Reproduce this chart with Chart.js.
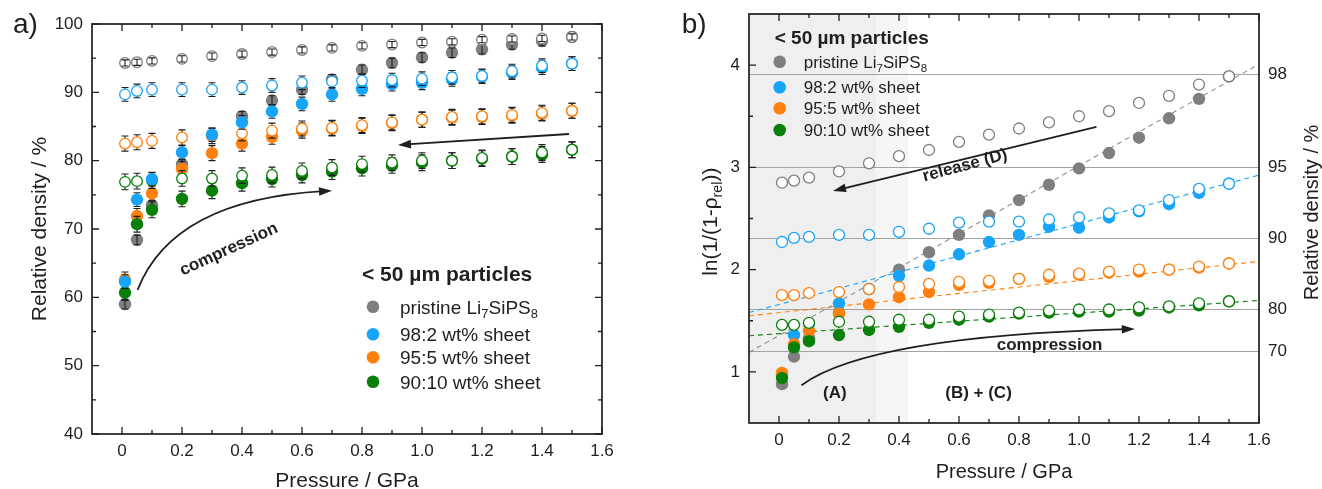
<!DOCTYPE html>
<html>
<head>
<meta charset="utf-8">
<title>Densification of Li7SiPS8 / sheet composites</title>
<script src="https://cdn.jsdelivr.net/npm/chart.js"></script>
<style>
  body { margin: 0; background: #fff; }
  #wrap { display: flex; width: 1322px; height: 489px; }
  canvas { display: block; }
</style>
</head>
<body>
<div id="wrap">
  <canvas id="chartA" width="660" height="489"></canvas>
  <canvas id="chartB" width="662" height="489"></canvas>
</div>

<script>
// pressure steps in GPa, shared by all series
var pressure = [0.01, 0.05, 0.1, 0.2, 0.3, 0.4, 0.5, 0.6, 0.7, 0.8, 0.9, 1.0, 1.1, 1.2, 1.3, 1.4, 1.5];

// a) relative density / %, compression (filled) and release (open)
var pristineComp = [59.0, 68.4, 73.5, 79.5, 83.7, 86.5, 88.8, 90.4, 91.9, 93.3, 94.3, 95.1, 95.8, 96.3, 97.0, 97.5, 98.1];
var pristineRel  = [94.3, 94.4, 94.6, 94.9, 95.3, 95.6, 95.9, 96.2, 96.5, 96.8, 97.0, 97.3, 97.4, 97.7, 97.8, 97.9, 98.1];
var sheet2Comp   = [62.3, 74.3, 77.3, 81.2, 83.8, 85.6, 87.2, 88.3, 89.7, 90.5, 91.2, 91.4, 91.9, 92.3, 92.9, 93.6, 94.2];
var sheet2Rel    = [89.7, 90.2, 90.4, 90.4, 90.4, 90.7, 91.0, 91.4, 91.6, 91.7, 91.8, 92.0, 92.2, 92.4, 93.1, 93.9, 94.2];
var sheet5Comp   = [62.6, 71.9, 75.2, 78.8, 81.1, 82.5, 83.5, 84.4, 84.7, 85.1, 85.5, 86.0, 86.3, 86.4, 86.6, 86.9, 87.3];
var sheet5Rel    = [82.5, 82.7, 82.9, 83.4, 83.6, 84.0, 84.4, 84.7, 84.8, 85.2, 85.6, 86.0, 86.4, 86.5, 86.7, 87.0, 87.3];
var sheet10Comp  = [60.7, 70.7, 72.8, 74.4, 75.6, 76.7, 77.3, 77.9, 78.4, 78.9, 79.3, 79.7, 80.0, 80.3, 80.6, 80.9, 81.6];
var sheet10Rel   = [76.9, 77.0, 77.1, 77.4, 77.4, 77.8, 77.9, 78.5, 79.0, 79.5, 79.7, 80.0, 80.0, 80.4, 80.6, 81.2, 81.6];

// error bar half widths (%)
var errPristineComp = 0.7, errPristineRel = 0.45, errSheet2 = 1.0, errSheet5 = 1.1, errSheet10 = 1.15;

// b) ln(1/(1-rho_rel))
var lnPristineComp = [0.88, 1.15, 1.33, 1.58, 1.81, 2.00, 2.17, 2.34, 2.53, 2.68, 2.83, 2.99, 3.14, 3.29, 3.48, 3.67, 3.89];
var lnPristineRel  = [2.85, 2.87, 2.90, 2.96, 3.04, 3.11, 3.17, 3.25, 3.32, 3.38, 3.44, 3.50, 3.55, 3.63, 3.70, 3.81, 3.89];
var lnSheet2Comp   = [0.97, 1.36, 1.47, 1.67, 1.81, 1.94, 2.04, 2.15, 2.27, 2.34, 2.42, 2.41, 2.51, 2.57, 2.64, 2.75, 2.84];
var lnSheet2Rel    = [2.27, 2.31, 2.32, 2.34, 2.34, 2.37, 2.40, 2.46, 2.47, 2.47, 2.49, 2.51, 2.55, 2.58, 2.68, 2.79, 2.84];
var lnSheet5Comp   = [0.99, 1.27, 1.40, 1.57, 1.66, 1.73, 1.78, 1.85, 1.87, 1.91, 1.93, 1.95, 1.97, 1.98, 2.00, 2.02, 2.06];
var lnSheet5Rel    = [1.75, 1.75, 1.77, 1.78, 1.81, 1.83, 1.86, 1.88, 1.89, 1.91, 1.95, 1.96, 1.98, 2.00, 2.00, 2.03, 2.06];
var lnSheet10Comp  = [0.94, 1.24, 1.30, 1.36, 1.41, 1.44, 1.48, 1.51, 1.54, 1.57, 1.58, 1.59, 1.59, 1.60, 1.63, 1.65, 1.69];
var lnSheet10Rel   = [1.46, 1.46, 1.48, 1.49, 1.49, 1.51, 1.51, 1.54, 1.56, 1.58, 1.60, 1.61, 1.61, 1.63, 1.64, 1.67, 1.69];

// linear fits of the (B)+(C) range, given by their two ends
var fitEnds      = [-0.1, 1.6];
var fitPristine  = [1.19, 4.01];
var fitSheet2    = [1.58, 2.925];
var fitSheet5    = [1.548, 2.08];
var fitSheet10   = [1.353, 1.698];

// axes
var pressureTicks  = [0, 0.2, 0.4, 0.6, 0.8, 1.0, 1.2, 1.4, 1.6];
var pressureLabels = ['0', '0.2', '0.4', '0.6', '0.8', '1.0', '1.2', '1.4', '1.6'];
var pressureMinor  = [0.1, 0.3, 0.5, 0.7, 0.9, 1.1, 1.3, 1.5];
var densityTicks   = [40, 50, 60, 70, 80, 90, 100];
var densityMinor   = [45, 55, 65, 75, 85, 95];
var lnTicks        = [1, 2, 3, 4];
var lnMinor        = [1.5, 2.5, 3.5];
var densityMarks   = [98, 95, 90, 80, 70];   // right axis of b), sits at ln(1/(1-rho))

// shaded pressure ranges in b): (A) and the transition strip
var rangeA     = [-0.1, 0.325];
var rangeTrans = [0.325, 0.43];

var seriesNames = [
  [['pristine Li'], ['7', 1], ['SiPS'], ['8', 1]],
  [['98:2 wt% sheet']],
  [['95:5 wt% sheet']],
  [['90:10 wt% sheet']]
];

var FONT = "'Liberation Sans', Arial, sans-serif";
var INK = '#1f1f1f';
var C_GRAY = '#7f7f7f', C_BLUE = '#18a4f8', C_ORANGE = '#ff800e', C_GREEN = '#0a7f0a';
var seriesColors = [C_GRAY, C_BLUE, C_ORANGE, C_GREEN];

Chart.defaults.font.family = FONT;
Chart.defaults.color = INK;
var tickFont = { family: FONT, size: 17 };

function series(ys, color, hollow, r, err, errOnTop) {
  return {
    data: pressure.map(function (p, i) { return { x: p, y: ys[i] }; }),
    showLine: false,
    pointRadius: r,
    pointHoverRadius: r,
    pointBackgroundColor: hollow ? '#ffffff' : color,
    pointBorderColor: color,
    pointBorderWidth: hollow ? 1.3 : 0,
    err: err,
    errOnTop: errOnTop
  };
}

function fitLine(ends, color) {
  return {
    data: fitEnds.map(function (x, i) { return { x: x, y: ends[i] }; }),
    showLine: true,
    borderColor: color,
    borderWidth: 1.1,
    borderDash: [5, 4],
    pointRadius: 0,
    fill: false
  };
}

// first in the list is drawn first (bottom)
function stack(list) {
  list.forEach(function (d, i) { d.order = list.length - i; });
  return list;
}

// fixed box size, no extra room for overhanging labels
function fixSize(w, h) {
  return function (s) {
    if (w) s.width = w;
    if (h) s.height = h;
    s.paddingTop = s.paddingBottom = s.paddingLeft = s.paddingRight = 0;
  };
}

function fontStr(size, weight) { return weight + ' ' + size + 'px ' + FONT; }

// text with subscripts, caps centred on y
function drawRich(ctx, parts, x, y, size, weight, align) {
  var w = 0;
  parts.forEach(function (p) {
    ctx.font = fontStr(p[1] ? size * 0.68 : size, weight);
    w += ctx.measureText(p[0]).width;
  });
  var cx = align === 'center' ? x - w / 2 : x;
  var base = y + size * 0.36;
  ctx.textAlign = 'left';
  ctx.textBaseline = 'alphabetic';
  parts.forEach(function (p) {
    ctx.font = fontStr(p[1] ? size * 0.68 : size, weight);
    ctx.fillText(p[0], cx, p[1] ? base + size * 0.25 : base);
    cx += ctx.measureText(p[0]).width;
  });
}

function vTitle(ctx, parts, x, y, size) {
  ctx.save();
  ctx.translate(x, y);
  ctx.rotate(-Math.PI / 2);
  drawRich(ctx, parts, 0, 0, size, 'normal', 'center');
  ctx.restore();
}

function toPx(chart, p) {
  return [chart.scales.x.getPixelForValue(p[0]), chart.scales.y.getPixelForValue(p[1])];
}

function head(ctx, tip, from) {
  var a = Math.atan2(tip[1] - from[1], tip[0] - from[0]), L = 13, H = 4.3;
  ctx.beginPath();
  ctx.moveTo(tip[0], tip[1]);
  ctx.lineTo(tip[0] - L * Math.cos(a) + H * Math.sin(a), tip[1] - L * Math.sin(a) - H * Math.cos(a));
  ctx.lineTo(tip[0] - L * Math.cos(a) - H * Math.sin(a), tip[1] - L * Math.sin(a) + H * Math.cos(a));
  ctx.closePath();
  ctx.fill();
}

function shortened(tip, from, by) {
  var dx = tip[0] - from[0], dy = tip[1] - from[1], d = Math.sqrt(dx * dx + dy * dy);
  return [tip[0] - dx / d * by, tip[1] - dy / d * by];
}

function straightArrow(chart, from, to) {
  var ctx = chart.ctx, a = toPx(chart, from), b = toPx(chart, to), e = shortened(b, a, 8);
  ctx.beginPath();
  ctx.moveTo(a[0], a[1]);
  ctx.lineTo(e[0], e[1]);
  ctx.stroke();
  head(ctx, b, a);
}

function curvedArrow(chart, from, ctrl, to) {
  var ctx = chart.ctx, a = toPx(chart, from), c = toPx(chart, ctrl), b = toPx(chart, to), e = shortened(b, c, 8);
  ctx.beginPath();
  ctx.moveTo(a[0], a[1]);
  ctx.quadraticCurveTo(c[0], c[1], e[0], e[1]);
  ctx.stroke();
  head(ctx, b, c);
}

function note(chart, text, at, size, angle) {
  var ctx = chart.ctx, p = toPx(chart, at);
  ctx.save();
  ctx.translate(p[0], p[1]);
  ctx.rotate((angle || 0) * Math.PI / 180);
  drawRich(ctx, [[text]], 0, 0, size, 'bold', 'center');
  ctx.restore();
}

function drawLegend(chart, cfg) {
  var ctx = chart.ctx, a = chart.chartArea;
  ctx.fillStyle = INK;
  drawRich(ctx, [['< 50 µm particles']], a.left + cfg.titleX, a.top + cfg.titleY, cfg.titleSize, 'bold', 'left');
  seriesNames.forEach(function (parts, i) {
    var y = a.top + cfg.rows[i];
    ctx.fillStyle = seriesColors[i];
    ctx.beginPath();
    ctx.arc(a.left + cfg.markX, y, cfg.r, 0, 2 * Math.PI);
    ctx.fill();
    ctx.fillStyle = INK;
    drawRich(ctx, parts, a.left + cfg.textX, y, cfg.size, 'normal', 'left');
  });
}

function drawBars(chart, meta, ds) {
  var ctx = chart.ctx, sy = chart.scales.y;
  ctx.save();
  ctx.strokeStyle = INK;
  ctx.lineWidth = 1.1;
  ctx.beginPath();
  meta.data.forEach(function (pt, i) {
    var v = ds.data[i].y;
    var top = sy.getPixelForValue(v + ds.err), bot = sy.getPixelForValue(v - ds.err);
    ctx.moveTo(pt.x, top); ctx.lineTo(pt.x, bot);
    ctx.moveTo(pt.x - 3.5, top); ctx.lineTo(pt.x + 3.5, top);
    ctx.moveTo(pt.x - 3.5, bot); ctx.lineTo(pt.x + 3.5, bot);
  });
  ctx.stroke();
  ctx.restore();
}

var errorBars = {
  id: 'errorBars',
  beforeDatasetDraw: function (chart, args) {
    var ds = chart.data.datasets[args.index];
    if (ds.err && !ds.errOnTop) drawBars(chart, args.meta, ds);
  },
  afterDatasetDraw: function (chart, args) {
    var ds = chart.data.datasets[args.index];
    if (ds.err && ds.errOnTop) drawBars(chart, args.meta, ds);
  }
};

// box round the plot with inward ticks
function frame(cfg) {
  return {
    id: 'frame',
    afterDraw: function (chart) {
      var ctx = chart.ctx, a = chart.chartArea, sx = chart.scales.x, sy = chart.scales.y;
      ctx.save();
      ctx.strokeStyle = INK;
      ctx.lineWidth = 1.3;
      ctx.beginPath();
      function xt(list, len) {
        list.forEach(function (v) {
          var p = sx.getPixelForValue(v);
          ctx.moveTo(p, a.bottom); ctx.lineTo(p, a.bottom - len);
          ctx.moveTo(p, a.top); ctx.lineTo(p, a.top + len);
        });
      }
      function yt(list, len) {
        list.forEach(function (v) {
          var p = sy.getPixelForValue(v);
          ctx.moveTo(a.left, p); ctx.lineTo(a.left + len, p);
          if (cfg.right) { ctx.moveTo(a.right, p); ctx.lineTo(a.right - len, p); }
        });
      }
      xt(pressureTicks, 7); xt(pressureMinor, 4);
      yt(cfg.yMajor, 7); yt(cfg.yMinor, 4);
      ctx.stroke();
      ctx.lineWidth = 1.7;
      ctx.strokeRect(a.left, a.top, a.width, a.height);
      ctx.restore();
    }
  };
}

function pressureAxis(titleSize, titlePad, height) {
  return {
    type: 'linear', min: -0.1, max: 1.6,
    afterBuildTicks: function (s) { s.ticks = pressureTicks.map(function (v) { return { value: v }; }); },
    afterFit: fixSize(0, height),
    grid: { display: false, drawTicks: false },
    border: { display: false },
    ticks: {
      font: tickFont, color: INK, padding: 7, maxRotation: 0, autoSkip: false,
      callback: function (v, i) { return pressureLabels[i]; }
    },
    title: {
      display: true, text: 'Pressure / GPa', color: INK,
      font: { family: FONT, size: titleSize }, padding: { top: 0, bottom: titlePad }
    }
  };
}

// ---------- a) relative density ----------
var notesA = {
  id: 'notesA',
  afterDraw: function (chart) {
    var ctx = chart.ctx;
    ctx.save();
    ctx.strokeStyle = INK; ctx.fillStyle = INK; ctx.lineWidth = 1.8;
    curvedArrow(chart, [0.052, 61.1], [0.17, 74.3], [0.70, 75.6]);
    straightArrow(chart, [1.49, 83.9], [0.92, 82.3]);
    note(chart, 'compression', [0.354, 67.2], 17, -24.6);
    drawLegend(chart, { titleX: 270, titleY: 249, titleSize: 21, markX: 281, textX: 308,
                        rows: [282.7, 310.3, 333.3, 357.7], size: 19, r: 6.3 });
    ctx.fillStyle = INK;
    vTitle(ctx, [['Relative density / %']], 38.5, 229, 21);
    ctx.font = fontStr(28, 'normal');
    ctx.textAlign = 'left'; ctx.textBaseline = 'alphabetic';
    ctx.fillText('a)', 13, 33);
    ctx.restore();
  }
};

new Chart(document.getElementById('chartA'), {
  type: 'scatter',
  data: {
    datasets: stack([
      series(pristineComp, C_GRAY, false, 6.2, errPristineComp, true),
      series(pristineRel, C_GRAY, true, 5.3, errPristineRel, true),
      series(sheet5Comp, C_ORANGE, false, 6.2, errSheet5, false),
      series(sheet5Rel, C_ORANGE, true, 5.3, errSheet5, false),
      series(sheet10Comp, C_GREEN, false, 6.2, errSheet10, false),
      series(sheet10Rel, C_GREEN, true, 5.3, errSheet10, false),
      series(sheet2Comp, C_BLUE, false, 6.2, errSheet2, false),
      series(sheet2Rel, C_BLUE, true, 5.3, errSheet2, false)
    ])
  },
  options: {
    responsive: false,
    animation: false,
    devicePixelRatio: 1,
    layout: { padding: { left: 0, right: 58, top: 24, bottom: 0 } },
    plugins: { legend: { display: false }, tooltip: { enabled: false } },
    scales: {
      x: pressureAxis(21, -5, 55),
      y: {
        type: 'linear', min: 40, max: 100,
        afterBuildTicks: function (s) { s.ticks = densityTicks.map(function (v) { return { value: v }; }); },
        afterFit: fixSize(92, 0),
        grid: { display: false, drawTicks: false },
        border: { display: false },
        ticks: { font: tickFont, color: INK, padding: 9 }
      }
    }
  },
  plugins: [errorBars, frame({ yMajor: densityTicks, yMinor: densityMinor, right: true }), notesA]
});

// ---------- b) ln(1/(1-rho_rel)) ----------
var shadeB = {
  id: 'shadeB',
  beforeDraw: function (chart) {
    var ctx = chart.ctx, a = chart.chartArea, sx = chart.scales.x;
    ctx.save();
    ctx.fillStyle = '#efefef';
    ctx.fillRect(sx.getPixelForValue(rangeA[0]), a.top,
                 sx.getPixelForValue(rangeA[1]) - sx.getPixelForValue(rangeA[0]), a.height);
    ctx.fillStyle = '#f6f6f6';
    ctx.fillRect(sx.getPixelForValue(rangeTrans[0]), a.top,
                 sx.getPixelForValue(rangeTrans[1]) - sx.getPixelForValue(rangeTrans[0]), a.height);
    ctx.restore();
  }
};

var notesB = {
  id: 'notesB',
  afterDraw: function (chart) {
    var ctx = chart.ctx;
    ctx.save();
    ctx.strokeStyle = INK; ctx.fillStyle = INK; ctx.lineWidth = 1.8;
    straightArrow(chart, [1.058, 3.396], [0.18, 2.77]);
    curvedArrow(chart, [0.075, 0.87], [0.30, 1.35], [1.186, 1.42]);
    note(chart, 'release (D)', [0.619, 3.03], 17, -15);
    note(chart, 'compression', [0.902, 1.27], 17, 0);
    note(chart, '(A)', [0.186, 0.80], 17, 0);
    note(chart, '(B) + (C)', [0.665, 0.80], 17, 0);
    drawLegend(chart, { titleX: 25.7, titleY: 22.7, titleSize: 19, markX: 30.7, textX: 54.7,
                        rows: [47.7, 73.3, 94.3, 116], size: 17, r: 6.3 });
    ctx.fillStyle = INK;
    vTitle(ctx, [['ln(1/(1-ρ'], ['rel', 1], ['))']], 49, 221.7, 21);
    vTitle(ctx, [['Relative density / %']], 651, 212.5, 20);
    ctx.font = fontStr(28, 'normal');
    ctx.textAlign = 'left'; ctx.textBaseline = 'alphabetic';
    ctx.fillText('b)', 21.7, 33);
    ctx.restore();
  }
};

new Chart(document.getElementById('chartB'), {
  type: 'scatter',
  data: {
    datasets: stack([
      fitLine(fitPristine, '#8f8f8f'),
      fitLine(fitSheet2, C_BLUE),
      fitLine(fitSheet5, C_ORANGE),
      fitLine(fitSheet10, C_GREEN),
      series(lnPristineComp, C_GRAY, false, 6.2),
      series(lnPristineRel, C_GRAY, true, 5.5),
      series(lnSheet2Comp, C_BLUE, false, 6.2),
      series(lnSheet2Rel, C_BLUE, true, 5.5),
      series(lnSheet5Comp, C_ORANGE, false, 6.2),
      series(lnSheet5Rel, C_ORANGE, true, 5.5),
      series(lnSheet10Comp, C_GREEN, false, 6.2),
      series(lnSheet10Rel, C_GREEN, true, 5.5)
    ])
  },
  options: {
    responsive: false,
    animation: false,
    devicePixelRatio: 1,
    layout: { padding: { left: 0, right: 0, top: 14, bottom: 0 } },
    plugins: { legend: { display: false }, tooltip: { enabled: false } },
    scales: {
      x: pressureAxis(20, 5, 66),
      y: {
        type: 'linear', min: 0.5, max: 4.5,
        afterBuildTicks: function (s) { s.ticks = lnTicks.map(function (v) { return { value: v }; }); },
        afterFit: fixSize(89, 0),
        grid: { display: false, drawTicks: false },
        border: { display: false },
        ticks: { font: tickFont, color: INK, padding: 9 }
      },
      y2: {
        type: 'linear', position: 'right', min: 0.5, max: 4.5,
        afterBuildTicks: function (s) {
          s.ticks = densityMarks.map(function (d) { return { value: Math.log(1 / (1 - d / 100)) }; });
        },
        afterFit: fixSize(63, 0),
        grid: { display: true, drawOnChartArea: true, drawTicks: false, color: '#a3a3a3', lineWidth: 1 },
        border: { display: false },
        ticks: {
          font: tickFont, color: INK, padding: 9,
          callback: function (v, i) { return String(densityMarks[i]); }
        }
      }
    }
  },
  plugins: [shadeB, frame({ yMajor: lnTicks, yMinor: lnMinor, right: false }), notesB]
});
</script>
</body>
</html>
